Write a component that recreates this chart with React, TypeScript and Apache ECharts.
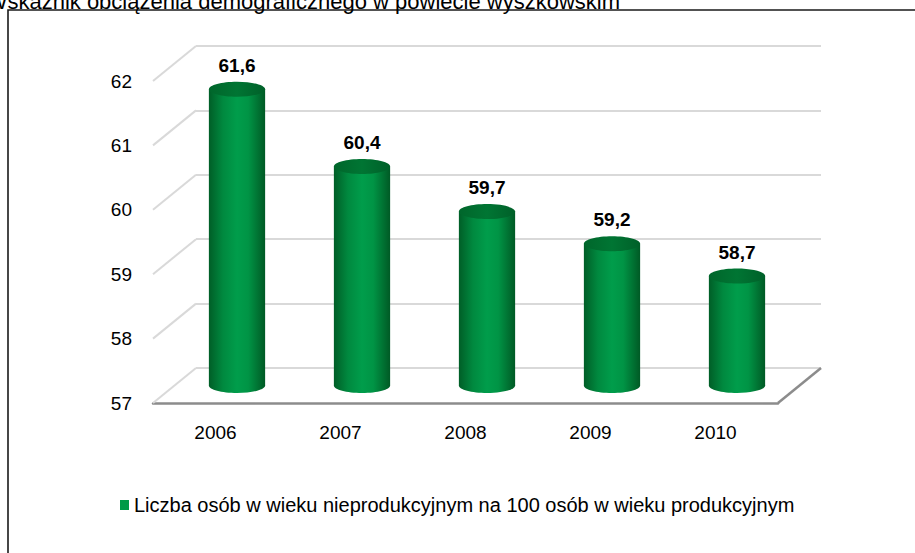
import React, { useEffect, useRef } from 'react';
import * as echarts from 'echarts';

const categories = ['2006', '2007', '2008', '2009', '2010'];
const values = [61.6, 60.4, 59.7, 59.2, 58.7];
const gridTicks = [57, 58, 59, 60, 61, 62];
const seriesName = 'Liczba osób w wieku nieprodukcyjnym na 100 osób w wieku produkcyjnym';
const titleText = 'Wskaźnik obciążenia demograficznego w powiecie wyszkowskim';
const Y_MIN = 57;
const Y_MAX = 62;

const FONT = 'Liberation Sans';
const DX = 43;
const DY = 35;
const BACK = { left: 196, top: 46, width: 625, height: 322 };

export default function App() {
  const ref = useRef<HTMLDivElement>(null);
  useEffect(() => {
    if (!ref.current) return;
    const chart = echarts.init(ref.current, null, { renderer: 'svg' });
    const gridOf = (k: number) => ({
      left: BACK.left - DX * k,
      top: BACK.top + DY * k,
      width: BACK.width,
      height: BACK.height,
    });
    const bodyGrad = () =>
      new echarts.graphic.LinearGradient(0, 0, 1, 0, [
        { offset: 0, color: '#005e27' },
        { offset: 0.25, color: '#00893f' },
        { offset: 0.5, color: '#009d4b' },
        { offset: 0.7, color: '#009445' },
        { offset: 1, color: '#005a25' },
      ]);
    const topGrad = () =>
      new echarts.graphic.LinearGradient(0, 0, 1, 0, [
        { offset: 0, color: '#00662b' },
        { offset: 0.5, color: '#007533' },
        { offset: 1, color: '#006029' },
      ]);
    const option: any = {
      animation: false,
      backgroundColor: '#ffffff',
      grid: [gridOf(0), gridOf(0.5), gridOf(1)],
      xAxis: [
        { gridIndex: 0, type: 'category', data: categories, show: false },
        { gridIndex: 1, type: 'category', data: categories, show: false },
        {
          gridIndex: 2,
          type: 'category',
          data: categories,
          axisLine: { lineStyle: { color: '#8c8c8c', width: 2.5 } },
          axisTick: { show: false },
          axisLabel: { fontSize: 19, color: '#000', margin: 20, fontFamily: FONT },
        },
      ],
      yAxis: [
        {
          gridIndex: 0,
          type: 'value',
          min: Y_MIN,
          max: Y_MAX,
          interval: 1,
          axisLabel: { show: false },
          axisLine: { show: false },
          axisTick: { show: false },
          splitLine: { lineStyle: { color: '#d9d9d9', width: 2 } },
        },
        { gridIndex: 1, type: 'value', min: Y_MIN, max: Y_MAX, show: false },
        {
          gridIndex: 2,
          type: 'value',
          min: Y_MIN,
          max: Y_MAX,
          interval: 1,
          axisLine: { show: false },
          axisTick: { show: false },
          splitLine: { show: false },
          axisLabel: { fontSize: 19, color: '#000', margin: 21, fontFamily: FONT },
        },
      ],
      legend: {
        data: [seriesName],
        left: 115,
        top: 490,
        icon: 'rect',
        itemWidth: 9,
        itemHeight: 10,
        itemGap: 5,
        textStyle: { fontSize: 20, color: '#000', fontFamily: FONT },
      },
      graphic: [
        {
          type: 'rect',
          shape: { x: 8, y: 10, width: 1000, height: 1000 },
          style: { fill: 'none', stroke: '#1a1a1a', lineWidth: 1.6 },
          silent: true,
        },
        {
          type: 'text',
          x: 620,
          y: 12,
          style: {
            text: titleText,
            align: 'right',
            verticalAlign: 'bottom',
            font: '22px "Liberation Sans"',
            fill: '#000',
          },
          silent: true,
        },
      ],
      series: [
        {
          type: 'custom',
          name: 'grid3d',
          xAxisIndex: 0,
          yAxisIndex: 0,
          silent: true,
          z: 1,
          data: gridTicks.map((v) => [0, v]),
          renderItem: (params: any, api: any) => {
            const cs = params.coordSys;
            const y = api.coord([0, api.value(1)])[1];
            const children: any[] = [
              {
                type: 'line',
                shape: { x1: cs.x - DX, y1: y + DY, x2: cs.x, y2: y },
                style: { stroke: '#d9d9d9', lineWidth: 2 },
              },
            ];
            if (api.value(1) === Y_MIN) {
              children.push({
                type: 'line',
                shape: { x1: cs.x + cs.width - DX, y1: y + DY, x2: cs.x + cs.width, y2: y },
                style: { stroke: '#8c8c8c', lineWidth: 2.5 },
              });
            }
            return { type: 'group', children };
          },
        },
        {
          type: 'custom',
          name: seriesName,
          xAxisIndex: 1,
          yAxisIndex: 1,
          z: 3,
          itemStyle: { color: '#009a47' },
          data: values.map((v, i) => [i, v]),
          renderItem: (params: any, api: any) => {
            const top = api.coord([api.value(0), api.value(1)]);
            const bot = api.coord([api.value(0), Y_MIN]);
            const w = api.size([1, 0])[0] * 0.45;
            const rx = w / 2;
            const ry = 7.5;
            const cx = top[0];
            const label = String(api.value(1)).replace('.', ',');
            return {
              type: 'group',
              children: [
                {
                  type: 'ellipse',
                  shape: { cx, cy: bot[1], rx, ry },
                  style: { fill: bodyGrad() },
                },
                {
                  type: 'rect',
                  shape: { x: cx - rx, y: top[1], width: w, height: bot[1] - top[1] },
                  style: { fill: bodyGrad() },
                },
                {
                  type: 'ellipse',
                  shape: { cx, cy: top[1], rx, ry },
                  style: { fill: topGrad() },
                },
                {
                  type: 'text',
                  x: cx,
                  y: top[1] - 24,
                  style: {
                    text: label,
                    align: 'center',
                    verticalAlign: 'middle',
                    font: 'bold 19px "Liberation Sans"',
                    fill: '#000',
                  },
                },
              ],
            };
          },
        },
      ],
    };
    chart.setOption(option);
    return () => chart.dispose();
  }, []);
  return (
    <div
      ref={ref}
      style={{ position: 'fixed', left: 0, top: 0, width: 915, height: 553, background: '#fff' }}
    />
  );
}
